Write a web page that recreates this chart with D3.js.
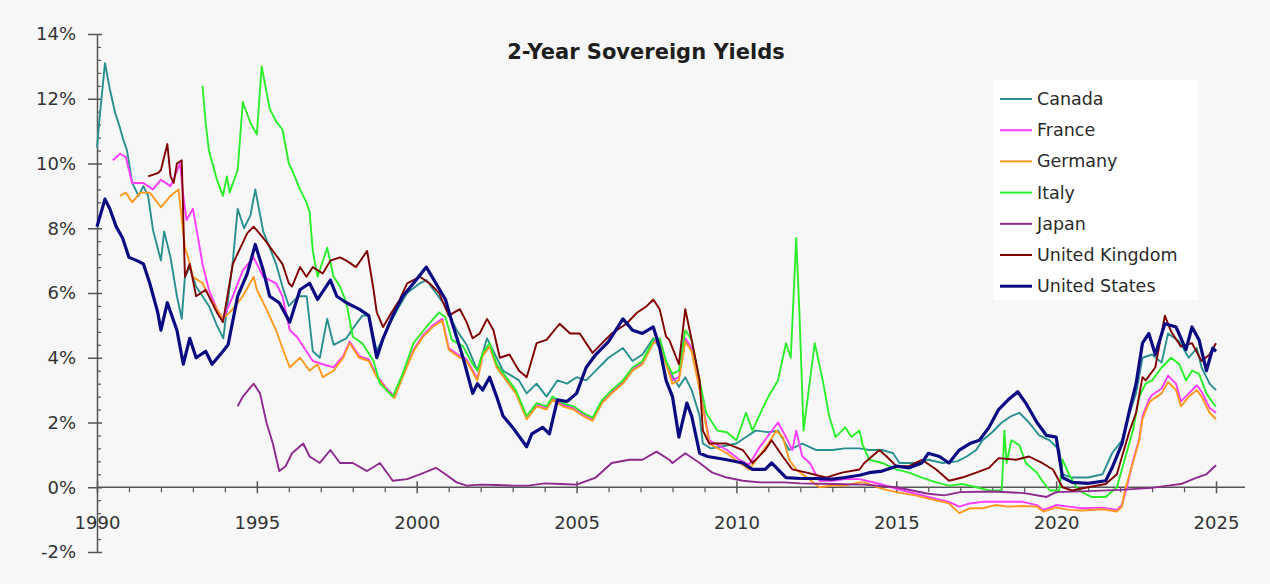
<!DOCTYPE html>
<html>
<head>
<meta charset="utf-8">
<script src="https://cdn.jsdelivr.net/npm/d3@7"></script>
<style>
  html, body { margin: 0; padding: 0; background: #f7f7f7; }
  svg { display: block; }
  text { font-family: "DejaVu Sans", Verdana, sans-serif; fill: #333; }
</style>
</head>
<body>
<svg id="chart" width="1270" height="584"></svg>
<script>
// ---- data: [decimal year, 2-year yield %] ----
const seriesNames = ["Canada", "France", "Germany", "Italy", "Japan", "United Kingdom", "United States"];
const seriesColors = ["#2a8f8f", "#ff3cff", "#ff9a1e", "#2bee2b", "#8e2a8e", "#800000", "#0a0a82"];

const canada = [[1990.0,10.5],[1990.1,11.6],[1990.25,13.1],[1990.4,12.3],[1990.56,11.6],[1990.72,11.1],[1990.8,10.8],[1990.94,10.4],[1991.1,9.4],[1991.3,9.0],[1991.45,9.3],[1991.6,9.0],[1991.75,7.95],[1992.0,7.0],[1992.1,7.9],[1992.3,7.1],[1992.5,5.9],[1992.65,5.2],[1992.75,6.5],[1992.9,6.8],[1993.1,6.2],[1993.3,5.9],[1993.5,5.6],[1993.75,5.0],[1993.95,4.6],[1994.1,5.8],[1994.25,7.0],[1994.4,8.6],[1994.6,8.0],[1994.8,8.4],[1994.95,9.2],[1995.2,7.9],[1995.4,7.4],[1995.6,6.9],[1995.8,6.2],[1996.0,5.6],[1996.3,5.9],[1996.56,5.9],[1996.75,4.2],[1996.97,4.0],[1997.2,5.2],[1997.4,4.4],[1997.6,4.5],[1997.8,4.6],[1998.0,4.9],[1998.3,5.3],[1998.5,5.3],[1998.75,4.2],[1999.06,4.85],[1999.4,5.5],[1999.7,6.0],[2000.1,6.3],[2000.3,6.4],[2000.6,6.0],[2000.9,5.6],[2001.25,4.85],[2001.56,4.4],[2001.9,3.6],[2002.2,4.6],[2002.4,4.2],[2002.7,3.6],[2003.2,3.3],[2003.44,2.9],[2003.75,3.2],[2004.06,2.8],[2004.4,3.3],[2004.7,3.2],[2005.0,3.4],[2005.3,3.3],[2005.6,3.6],[2006.0,4.0],[2006.45,4.3],[2006.75,3.9],[2007.06,4.1],[2007.4,4.6],[2007.6,4.3],[2007.9,3.6],[2008.2,3.1],[2008.4,3.4],[2008.6,3.0],[2008.85,2.2],[2008.95,1.35],[2009.2,1.2],[2009.5,1.25],[2010.0,1.35],[2010.3,1.55],[2010.6,1.75],[2011.0,1.7],[2011.3,1.75],[2011.65,1.15],[2012.06,1.35],[2012.5,1.15],[2013.0,1.15],[2013.4,1.2],[2013.85,1.2],[2014.15,1.15],[2014.56,1.15],[2014.9,1.05],[2015.1,0.75],[2015.6,0.75],[2016.0,0.85],[2016.45,0.75],[2016.9,0.8],[2017.2,0.95],[2017.5,1.15],[2017.7,1.45],[2018.0,1.7],[2018.3,2.0],[2018.6,2.2],[2018.85,2.3],[2019.15,2.0],[2019.47,1.6],[2019.8,1.45],[2020.1,1.15],[2020.2,0.4],[2020.5,0.3],[2021.0,0.3],[2021.45,0.4],[2021.75,1.05],[2022.06,1.45],[2022.3,2.3],[2022.5,2.9],[2022.7,4.0],[2023.0,4.1],[2023.3,3.85],[2023.5,4.75],[2023.85,4.5],[2024.15,4.0],[2024.4,4.3],[2024.55,3.7],[2024.8,3.2],[2025.0,3.0]];

const france = [[1990.5,10.1],[1990.72,10.3],[1990.9,10.2],[1991.0,9.8],[1991.1,9.4],[1991.45,9.4],[1991.75,9.2],[1992.0,9.5],[1992.3,9.3],[1992.6,10.0],[1992.7,9.0],[1992.8,8.25],[1993.0,8.6],[1993.1,8.05],[1993.3,6.9],[1993.5,6.1],[1993.75,5.5],[1993.94,5.2],[1994.25,5.9],[1994.56,6.7],[1994.9,7.1],[1995.2,6.5],[1995.6,6.3],[1995.8,5.9],[1996.03,4.85],[1996.25,4.65],[1996.55,4.2],[1996.75,3.9],[1997.06,3.8],[1997.4,3.7],[1997.7,4.05],[1997.9,4.5],[1998.2,4.05],[1998.5,3.95],[1998.75,3.45],[1999.06,3.05],[1999.3,2.8],[1999.56,3.45],[1999.9,4.25],[2000.2,4.7],[2000.5,5.0],[2000.8,5.2],[2001.0,4.3],[2001.35,4.05],[2001.56,3.95],[2001.9,3.35],[2002.06,4.1],[2002.28,4.4],[2002.5,3.75],[2002.8,3.35],[2003.1,2.95],[2003.44,2.15],[2003.75,2.55],[2004.06,2.45],[2004.25,2.75],[2004.56,2.55],[2004.9,2.45],[2005.2,2.25],[2005.5,2.1],[2005.8,2.65],[2006.1,2.95],[2006.45,3.25],[2006.75,3.65],[2007.06,3.85],[2007.4,4.5],[2007.6,4.55],[2007.8,3.85],[2008.0,3.3],[2008.2,3.4],[2008.4,4.6],[2008.6,4.3],[2008.85,3.1],[2009.15,1.45],[2009.7,1.15],[2010.1,0.85],[2010.4,0.7],[2010.7,1.2],[2011.0,1.6],[2011.3,2.0],[2011.55,1.55],[2011.75,1.15],[2011.87,1.75],[2012.06,0.95],[2012.3,0.75],[2012.4,0.55],[2012.6,0.2],[2013.0,0.2],[2013.4,0.25],[2013.85,0.25],[2014.5,0.1],[2015.0,-0.05],[2015.6,-0.2],[2016.0,-0.3],[2016.65,-0.45],[2016.97,-0.6],[2017.3,-0.5],[2017.7,-0.45],[2018.1,-0.45],[2018.5,-0.45],[2018.95,-0.45],[2019.4,-0.55],[2019.6,-0.7],[2020.0,-0.55],[2020.4,-0.6],[2020.8,-0.65],[2021.45,-0.63],[2021.9,-0.7],[2022.06,-0.55],[2022.2,-0.05],[2022.4,0.8],[2022.6,1.5],[2022.7,2.2],[2022.9,2.7],[2023.0,2.85],[2023.3,3.05],[2023.5,3.45],[2023.75,3.2],[2023.9,2.65],[2024.15,2.9],[2024.4,3.15],[2024.55,2.95],[2024.8,2.45],[2025.0,2.3]];

const germany = [[1990.72,9.0],[1990.9,9.1],[1991.1,8.8],[1991.35,9.1],[1991.65,9.1],[1992.0,8.65],[1992.3,9.0],[1992.55,9.2],[1992.75,7.4],[1992.85,7.1],[1993.0,6.5],[1993.3,6.3],[1993.5,5.9],[1993.75,5.5],[1993.94,5.2],[1994.25,5.5],[1994.56,5.9],[1994.9,6.5],[1995.0,6.1],[1995.3,5.5],[1995.6,4.85],[1995.8,4.3],[1996.03,3.7],[1996.35,4.0],[1996.65,3.6],[1996.9,3.8],[1997.06,3.4],[1997.4,3.6],[1997.7,4.0],[1997.9,4.45],[1998.2,4.0],[1998.5,3.9],[1998.75,3.4],[1999.06,3.0],[1999.3,2.75],[1999.56,3.4],[1999.9,4.2],[2000.2,4.65],[2000.5,4.95],[2000.8,5.15],[2001.0,4.25],[2001.35,4.0],[2001.56,3.9],[2001.9,3.3],[2002.06,4.05],[2002.28,4.35],[2002.5,3.7],[2002.8,3.3],[2003.1,2.9],[2003.44,2.1],[2003.75,2.5],[2004.06,2.4],[2004.25,2.7],[2004.56,2.5],[2004.9,2.4],[2005.2,2.2],[2005.5,2.05],[2005.8,2.6],[2006.1,2.9],[2006.45,3.2],[2006.75,3.6],[2007.06,3.8],[2007.4,4.45],[2007.6,4.5],[2007.8,3.8],[2008.0,3.2],[2008.2,3.3],[2008.4,4.5],[2008.6,4.2],[2008.85,3.0],[2009.15,1.35],[2009.7,1.05],[2010.1,0.75],[2010.4,0.55],[2010.7,0.95],[2011.0,1.35],[2011.25,1.75],[2011.45,1.55],[2011.65,0.85],[2011.87,0.55],[2012.2,0.3],[2012.6,0.0],[2013.0,0.05],[2013.4,0.05],[2013.85,0.15],[2014.0,0.15],[2014.56,-0.05],[2015.0,-0.15],[2015.6,-0.25],[2016.0,-0.35],[2016.65,-0.5],[2016.97,-0.8],[2017.3,-0.65],[2017.7,-0.65],[2018.1,-0.55],[2018.5,-0.6],[2018.95,-0.58],[2019.4,-0.6],[2019.6,-0.75],[2020.0,-0.62],[2020.4,-0.7],[2020.8,-0.72],[2021.45,-0.68],[2021.9,-0.75],[2022.06,-0.6],[2022.15,-0.1],[2022.4,0.75],[2022.6,1.45],[2022.7,2.1],[2022.9,2.6],[2023.0,2.7],[2023.3,2.9],[2023.5,3.25],[2023.75,3.0],[2023.9,2.5],[2024.15,2.8],[2024.4,3.0],[2024.55,2.8],[2024.8,2.3],[2025.0,2.1]];

const italy = [[1993.3,12.4],[1993.4,11.25],[1993.5,10.4],[1993.75,9.5],[1993.94,9.0],[1994.06,9.6],[1994.15,9.1],[1994.4,9.8],[1994.56,11.9],[1994.8,11.25],[1995.0,10.9],[1995.15,13.0],[1995.4,11.7],[1995.6,11.3],[1995.8,11.05],[1996.0,10.0],[1996.1,9.8],[1996.35,9.2],[1996.55,8.8],[1996.65,8.5],[1996.75,7.3],[1996.9,6.5],[1997.2,7.4],[1997.4,6.5],[1997.6,6.2],[1997.8,5.7],[1998.0,4.65],[1998.3,4.45],[1998.65,3.9],[1998.85,3.2],[1999.06,3.0],[1999.25,2.8],[1999.56,3.5],[1999.9,4.45],[2000.3,4.95],[2000.7,5.4],[2000.9,5.25],[2001.1,4.55],[2001.45,4.35],[2001.75,3.8],[2001.9,3.6],[2002.06,4.15],[2002.28,4.45],[2002.5,3.8],[2002.8,3.4],[2003.1,3.0],[2003.44,2.2],[2003.75,2.6],[2004.06,2.5],[2004.25,2.8],[2004.56,2.6],[2004.9,2.5],[2005.2,2.3],[2005.5,2.15],[2005.8,2.7],[2006.1,3.0],[2006.45,3.3],[2006.75,3.7],[2007.06,3.9],[2007.4,4.55],[2007.6,4.6],[2007.8,3.9],[2008.0,3.5],[2008.2,3.6],[2008.4,4.85],[2008.6,4.55],[2008.85,3.3],[2009.05,2.3],[2009.4,1.75],[2009.7,1.7],[2010.0,1.45],[2010.3,2.3],[2010.5,1.75],[2010.8,2.4],[2011.0,2.8],[2011.3,3.3],[2011.55,4.45],[2011.7,4.0],[2011.87,7.7],[2011.97,5.4],[2012.1,1.75],[2012.3,3.3],[2012.45,4.45],[2012.7,3.3],[2012.9,2.2],[2013.1,1.55],[2013.4,1.85],[2013.6,1.55],[2013.85,1.75],[2013.95,1.3],[2014.15,0.85],[2014.56,0.75],[2015.0,0.55],[2015.4,0.45],[2015.8,0.3],[2016.25,0.15],[2016.65,0.05],[2017.06,0.1],[2017.5,0.0],[2017.9,-0.1],[2018.3,-0.1],[2018.38,1.75],[2018.45,0.75],[2018.6,1.45],[2018.85,1.3],[2019.05,0.75],[2019.4,0.45],[2019.56,0.2],[2019.8,-0.1],[2020.1,-0.1],[2020.2,0.85],[2020.4,0.4],[2020.7,-0.1],[2021.1,-0.3],[2021.55,-0.3],[2021.9,0.0],[2022.2,1.05],[2022.4,1.75],[2022.6,2.8],[2022.8,3.2],[2023.0,3.3],[2023.3,3.7],[2023.6,4.0],[2023.85,3.8],[2024.06,3.3],[2024.25,3.6],[2024.47,3.5],[2024.7,2.9],[2024.9,2.6],[2025.0,2.5]];

const japan = [[1994.4,2.5],[1994.56,2.8],[1994.9,3.2],[1995.1,2.9],[1995.3,2.0],[1995.5,1.35],[1995.7,0.5],[1995.9,0.65],[1996.1,1.05],[1996.45,1.35],[1996.65,0.95],[1996.97,0.75],[1997.3,1.15],[1997.6,0.75],[1998.0,0.75],[1998.45,0.5],[1998.85,0.75],[1999.25,0.2],[1999.7,0.25],[2000.1,0.4],[2000.6,0.6],[2000.9,0.4],[2001.25,0.15],[2001.56,0.05],[2002.0,0.08],[2002.5,0.07],[2003.0,0.05],[2003.5,0.05],[2004.0,0.12],[2004.5,0.1],[2005.0,0.08],[2005.6,0.3],[2006.1,0.75],[2006.65,0.85],[2007.06,0.85],[2007.5,1.1],[2007.9,0.85],[2008.0,0.75],[2008.4,1.05],[2008.85,0.75],[2009.25,0.45],[2009.7,0.3],[2010.2,0.2],[2010.75,0.15],[2011.5,0.15],[2012.0,0.12],[2013.0,0.1],[2014.0,0.08],[2015.0,0.0],[2016.0,-0.2],[2016.5,-0.25],[2017.0,-0.15],[2018.0,-0.13],[2019.0,-0.18],[2019.7,-0.3],[2020.0,-0.15],[2021.0,-0.12],[2022.0,-0.08],[2023.0,-0.02],[2023.5,0.05],[2023.9,0.1],[2024.4,0.3],[2024.7,0.4],[2025.0,0.68]];

const unitedKingdom = [[1991.6,9.6],[1991.9,9.7],[1992.0,9.8],[1992.2,10.6],[1992.3,9.6],[1992.4,9.4],[1992.5,10.0],[1992.65,10.1],[1992.75,6.5],[1992.9,6.9],[1993.1,5.9],[1993.4,6.1],[1993.75,5.4],[1993.94,5.1],[1994.25,6.9],[1994.7,7.85],[1994.9,8.05],[1995.2,7.7],[1995.5,7.3],[1995.8,6.9],[1996.0,6.3],[1996.1,6.2],[1996.35,6.8],[1996.55,6.5],[1996.75,6.8],[1997.06,6.6],[1997.3,7.0],[1997.6,7.1],[1997.8,7.0],[1998.1,6.8],[1998.45,7.3],[1998.65,6.1],[1998.75,5.4],[1998.95,4.95],[1999.15,5.3],[1999.47,5.8],[1999.7,6.3],[2000.1,6.5],[2000.4,6.3],[2000.7,6.0],[2001.0,5.3],[2001.35,5.5],[2001.56,5.1],[2001.75,4.6],[2001.97,4.75],[2002.2,5.2],[2002.4,4.85],[2002.6,4.0],[2002.9,4.1],[2003.2,3.6],[2003.44,3.4],[2003.75,4.45],[2004.06,4.55],[2004.47,5.05],[2004.8,4.75],[2005.1,4.75],[2005.5,4.15],[2005.8,4.45],[2006.1,4.75],[2006.56,5.05],[2006.9,5.4],[2007.2,5.6],[2007.4,5.8],[2007.6,5.5],[2007.8,4.65],[2007.9,4.55],[2008.2,3.8],[2008.4,5.5],[2008.6,4.55],[2008.85,3.3],[2008.95,1.75],[2009.15,1.35],[2009.7,1.35],[2010.2,1.15],[2010.5,0.75],[2010.9,1.15],[2011.1,1.45],[2011.45,0.95],[2011.75,0.55],[2012.2,0.45],[2012.8,0.3],[2013.3,0.45],[2013.85,0.55],[2014.0,0.75],[2014.47,1.15],[2014.7,0.95],[2015.0,0.65],[2015.4,0.65],[2015.8,0.85],[2016.25,0.55],[2016.65,0.2],[2017.06,0.3],[2017.5,0.45],[2017.9,0.6],[2018.2,0.9],[2018.75,0.85],[2019.15,0.95],[2019.56,0.75],[2019.9,0.55],[2020.2,0.0],[2020.5,-0.1],[2021.0,0.0],[2021.55,0.1],[2021.9,0.4],[2022.06,0.95],[2022.3,1.75],[2022.5,2.3],[2022.7,3.4],[2022.8,3.3],[2023.1,3.7],[2023.4,5.3],[2023.6,4.8],[2023.9,4.35],[2024.25,4.45],[2024.55,3.9],[2024.8,4.1],[2025.0,4.45]];

const unitedStates = [[1990.0,8.05],[1990.25,8.9],[1990.4,8.6],[1990.6,8.05],[1990.8,7.7],[1991.0,7.1],[1991.25,7.0],[1991.45,6.9],[1991.65,6.3],[1991.9,5.4],[1992.0,4.85],[1992.2,5.7],[1992.5,4.85],[1992.7,3.8],[1992.9,4.6],[1993.1,4.0],[1993.4,4.2],[1993.6,3.8],[1993.94,4.2],[1994.1,4.4],[1994.4,5.9],[1994.7,6.6],[1994.95,7.5],[1995.2,6.7],[1995.4,5.9],[1995.7,5.7],[1996.03,5.1],[1996.35,6.1],[1996.65,6.3],[1996.9,5.8],[1997.3,6.4],[1997.5,5.9],[1997.8,5.7],[1998.2,5.5],[1998.5,5.3],[1998.75,4.0],[1998.95,4.6],[1999.25,5.3],[1999.56,5.9],[1999.9,6.3],[2000.3,6.8],[2000.6,6.3],[2000.9,5.8],[2001.1,5.1],[2001.45,4.0],[2001.75,2.9],[2001.9,3.2],[2002.06,3.0],[2002.28,3.4],[2002.5,2.8],[2002.7,2.2],[2003.0,1.85],[2003.44,1.25],[2003.6,1.65],[2003.94,1.85],[2004.15,1.65],[2004.4,2.7],[2004.7,2.65],[2005.0,2.9],[2005.3,3.7],[2005.6,4.1],[2006.0,4.5],[2006.45,5.2],[2006.75,4.85],[2007.06,4.75],[2007.4,4.95],[2007.6,4.3],[2007.8,3.3],[2008.0,2.8],[2008.2,1.55],[2008.45,2.6],[2008.6,2.2],[2008.85,1.05],[2009.1,0.95],[2009.7,0.85],[2010.2,0.75],[2010.5,0.55],[2010.9,0.55],[2011.1,0.75],[2011.55,0.3],[2012.0,0.27],[2012.5,0.27],[2013.0,0.25],[2013.4,0.3],[2013.85,0.37],[2014.15,0.45],[2014.56,0.5],[2015.0,0.65],[2015.4,0.6],[2015.8,0.75],[2016.0,1.05],[2016.35,0.95],[2016.65,0.75],[2016.97,1.15],[2017.3,1.35],[2017.6,1.45],[2017.9,1.85],[2018.2,2.4],[2018.5,2.7],[2018.8,2.95],[2019.05,2.6],[2019.4,2.0],[2019.7,1.6],[2020.0,1.55],[2020.2,0.3],[2020.5,0.15],[2021.0,0.12],[2021.55,0.2],[2021.75,0.6],[2022.06,1.35],[2022.3,2.4],[2022.5,3.2],[2022.7,4.45],[2022.9,4.75],[2023.1,4.1],[2023.4,5.05],[2023.75,4.95],[2024.06,4.25],[2024.25,4.95],[2024.47,4.55],[2024.7,3.6],[2024.9,4.3],[2025.0,4.2]];

const seriesData = [canada, france, germany, italy, japan, unitedKingdom, unitedStates];
const yTickValues = [-2, 0, 2, 4, 6, 8, 10, 12, 14];
const xTickValues = [1990, 1995, 2000, 2005, 2010, 2015, 2020, 2025];
const chartTitle = "2-Year Sovereign Yields";

// ---- drawing ----
const svg = d3.select("#chart");
const x = d3.scaleLinear().domain([1990, 2025]).range([97, 1216]);
const y = d3.scaleLinear().domain([-2, 14]).range([552, 34]);
const axisColor = "#555";

// title
svg.append("text")
  .attr("x", 646).attr("y", 52)
  .attr("text-anchor", "middle").attr("dominant-baseline", "central")
  .style("font-weight", "bold").style("font-size", "21px").style("fill", "#1e1e1e")
  .text(chartTitle);

// y axis (major)
const gy = svg.append("g").attr("transform", `translate(${x(1990)},0)`)
  .call(d3.axisLeft(y).tickValues(yTickValues).tickFormat(d => d + "%").tickSize(9).tickSizeOuter(0).tickPadding(12));
gy.selectAll(".tick line").attr("x1", 5).attr("stroke", axisColor).attr("stroke-width", 1.5);
gy.select(".domain").attr("stroke", axisColor).attr("stroke-width", 1.5);
gy.selectAll(".tick text").style("font-size", "18px").style("fill", "#333").style("font-family", "DejaVu Sans, sans-serif");

// y axis (minor)
const minorY = d3.range(-2, 14.001, 0.4).filter(v => Math.abs(v / 2 - Math.round(v / 2)) > 1e-6);
const gym = svg.append("g").attr("transform", `translate(${x(1990)},0)`)
  .call(d3.axisRight(y).tickValues(minorY).tickFormat("").tickSize(4).tickSizeOuter(0));
gym.select(".domain").remove();
gym.selectAll(".tick line").attr("stroke", axisColor).attr("stroke-width", 1.2);

// x axis (major)
const gx = svg.append("g").attr("transform", `translate(0,${y(0)})`)
  .call(d3.axisBottom(x).tickValues(xTickValues).tickFormat(d3.format("d")).tickSize(6).tickSizeOuter(0));
gx.select(".domain").remove();
gx.selectAll(".tick line").attr("y1", -6).attr("stroke", axisColor).attr("stroke-width", 1.5);
gx.selectAll(".tick text").attr("y", 35).attr("dy", "0.35em")
  .style("font-size", "18px").style("fill", "#333").style("font-family", "DejaVu Sans, sans-serif");
svg.append("line").attr("x1", x(1990)).attr("x2", 1245).attr("y1", y(0)).attr("y2", y(0))
  .attr("stroke", axisColor).attr("stroke-width", 1.5);

// x axis (minor yearly)
const minorX = d3.range(1991, 2025).filter(v => v % 5 !== 0);
const gxm = svg.append("g").attr("transform", `translate(0,${y(0)})`)
  .call(d3.axisBottom(x).tickValues(minorX).tickFormat("").tickSize(5).tickSizeOuter(0));
gxm.select(".domain").remove();
gxm.selectAll(".tick line").attr("stroke", axisColor).attr("stroke-width", 1.2);

// lines
const line = d3.line().x(d => x(d[0])).y(d => y(d[1]));
seriesData.forEach((data, i) => {
  svg.append("path")
    .datum(data)
    .attr("fill", "none")
    .attr("stroke", seriesColors[i])
    .attr("stroke-width", i === 6 ? 3.2 : 1.9)
    .attr("stroke-linejoin", "round")
    .attr("d", line);
});

// legend
const lg = svg.append("g");
lg.append("rect").attr("x", 993).attr("y", 80).attr("width", 205).attr("height", 220).attr("fill", "#ffffff");
seriesNames.forEach((name, i) => {
  const ly = 99 + i * 31.2;
  lg.append("line").attr("x1", 1000).attr("x2", 1032).attr("y1", ly).attr("y2", ly)
    .attr("stroke", seriesColors[i]).attr("stroke-width", i === 6 ? 3 : 2);
  lg.append("text").attr("x", 1037).attr("y", ly).attr("dominant-baseline", "central")
    .style("font-size", "17.5px").style("fill", "#2a2a2a").text(name);
});
</script>
</body>
</html>
